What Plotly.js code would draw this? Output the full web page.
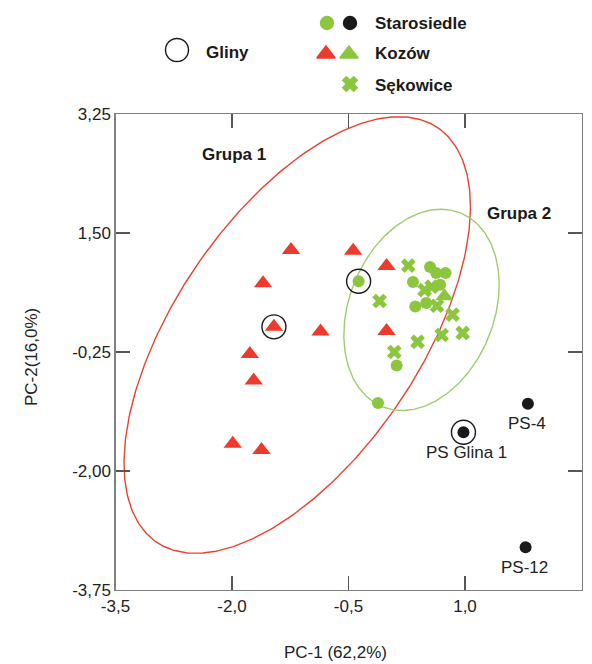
<!DOCTYPE html>
<html>
<head>
<meta charset="utf-8">
<script src="https://cdn.plot.ly/plotly-3.0.1.min.js"></script>
<style>html,body{margin:0;padding:0;background:#fff;}#chart{width:592px;height:664px;}</style>
</head>
<body>
<div id="chart"></div>
<script>
// ---- Data ----
const starGreenX = [-0.37, 0.55, 0.63, 0.75, 0.33, 0.68, 0.36, 0.50, 0.12, -0.12];
const starGreenY = [0.79, 1.00, 0.91, 0.91, 0.78, 0.74, 0.42, 0.47, -0.45, -1.00];

const starBlackX = [1.81, 0.98, 1.78];
const starBlackY = [-1.01, -1.43, -3.12];
const starBlackLabels = ['PS-4', 'PS Glina 1', 'PS-12'];

const kozRedX = [-1.24, -0.44, -0.01, -1.60, -1.46, -0.86, -0.01, -1.77, -1.72, -1.99, -1.62];
const kozRedY = [1.25, 1.24, 1.015, 0.76, 0.12, 0.05, 0.06, -0.28, -0.67, -1.60, -1.69];

const kozGreenX = [0.735];
const kozGreenY = [0.57];

const sekX = [0.27, -0.10, 0.48, 0.57, 0.64, 0.84, 0.70, 0.97, 0.39, 0.09];
const sekY = [1.02, 0.50, 0.66, 0.71, 0.43, 0.30, 0.00, 0.03, -0.10, -0.25];

const glinyX = [-1.46, -0.37, 0.98];
const glinyY = [0.12, 0.79, -1.43];

// Ellipse parameters: Grupa 1, Grupa 2 (center, half x-extent, half y-extent, correlation)
const ellipseNames = ['Grupa 1', 'Grupa 2'];
const ellipseCx = [-1.16, 0.44];
const ellipseCy = [0.00, 0.37];
const ellipseSx = [2.23, 1.00];
const ellipseSy = [3.21, 1.48];
const ellipseRho = [0.587, 0.25];
const ellipseColors = ['#e8432f', '#9fcd6c'];

const xTicks = [-3.5, -2.0, -0.5, 1.0, 2.5];
const yTicks = [3.25, 1.50, -0.25, -2.00, -3.75];

// ---- Styles ----
const FONT = 'Liberation Sans, Arial, Helvetica, sans-serif';
const RED = '#ec3a2d';
const GREEN = '#8cc63f';
const BLACK = '#1a1a1a';
const W = 592, H = 664;
const PLOT = {l: 115.5, r: 581.5, t: 114, b: 590};

function ellipsePath(i) {
  const xs = [], ys = [];
  const n = 360;
  const r = ellipseRho[i];
  const q = Math.sqrt(1 - r * r);
  for (let k = 0; k <= n; k++) {
    const t = 2 * Math.PI * k / n;
    xs.push(ellipseCx[i] + ellipseSx[i] * Math.cos(t));
    ys.push(ellipseCy[i] + ellipseSy[i] * (r * Math.cos(t) + q * Math.sin(t)));
  }
  return {xs, ys};
}

const traces = [];
ellipseNames.forEach((nm, i) => {
  const p = ellipsePath(i);
  traces.push({
    x: p.xs, y: p.ys, mode: 'lines', type: 'scatter', name: nm,
    line: {color: ellipseColors[i], width: 1.4},
    hoverinfo: 'skip', showlegend: false
  });
});

traces.push({x: kozRedX, y: kozRedY, mode: 'markers', type: 'scatter', name: 'Kozów',
  marker: {symbol: 'triangle-up', size: 16, color: RED}, showlegend: false});
traces.push({x: sekX, y: sekY, mode: 'markers', type: 'scatter', name: 'Sękowice',
  marker: {symbol: 'x', size: 13, color: GREEN}, showlegend: false});
traces.push({x: starGreenX, y: starGreenY, mode: 'markers', type: 'scatter', name: 'Starosiedle',
  marker: {symbol: 'circle', size: 12, color: GREEN}, showlegend: false});
traces.push({x: kozGreenX, y: kozGreenY, mode: 'markers', type: 'scatter', name: 'Kozów',
  marker: {symbol: 'triangle-up', size: 16, color: GREEN}, showlegend: false});
traces.push({x: starBlackX, y: starBlackY, mode: 'markers', type: 'scatter', name: 'Starosiedle',
  marker: {symbol: 'circle', size: 12, color: BLACK}, showlegend: false});
traces.push({x: glinyX, y: glinyY, mode: 'markers', type: 'scatter', name: 'Gliny',
  marker: {symbol: 'circle-open', size: 24, color: BLACK, line: {width: 1.4, color: BLACK}}, showlegend: false});

// ---- Custom legend (full-page overlay axes in page-pixel units) ----
const legMarkers = [
  {x: 177, y: 50, symbol: 'circle-open', size: 23, color: BLACK},
  {x: 327, y: 23, symbol: 'circle', size: 13, color: GREEN},
  {x: 350, y: 23, symbol: 'circle', size: 13, color: BLACK},
  {x: 326, y: 54, symbol: 'triangle-up', size: 16, color: RED},
  {x: 349, y: 54, symbol: 'triangle-up', size: 16, color: GREEN},
  {x: 350, y: 84, symbol: 'x', size: 13, color: GREEN}
];
legMarkers.forEach(m => {
  traces.push({x: [m.x], y: [m.y], xaxis: 'x2', yaxis: 'y2', mode: 'markers', type: 'scatter',
    cliponaxis: false, hoverinfo: 'skip', showlegend: false,
    marker: {symbol: m.symbol, size: m.size, color: m.color, line: {width: 1.4, color: m.color}}});
});
const legTexts = [
  {x: 204, y: 52, text: 'Gliny'},
  {x: 373, y: 23, text: 'Starosiedle'},
  {x: 373, y: 53, text: 'Kozów'},
  {x: 373, y: 85, text: 'Sękowice'}
];

const annotations = [];
legTexts.forEach(t => annotations.push({
  xref: 'x2', yref: 'y2', x: t.x, y: t.y, text: '<b>' + t.text + '</b>', showarrow: false,
  xanchor: 'left', yanchor: 'middle', font: {family: FONT, size: 17, color: BLACK}
}));
// Group labels
annotations.push({xref: 'x', yref: 'y', x: -1.97, y: 2.65, text: '<b>Grupa 1</b>', showarrow: false,
  font: {family: FONT, size: 17, color: BLACK}});
annotations.push({xref: 'x', yref: 'y', x: 1.70, y: 1.79, text: '<b>Grupa 2</b>', showarrow: false,
  font: {family: FONT, size: 17, color: BLACK}});
// Point labels
starBlackLabels.forEach((lb, i) => annotations.push({
  xref: 'x', yref: 'y', x: starBlackX[i], y: starBlackY[i], text: lb, showarrow: false,
  yshift: -20, xshift: (i === 1 ? 3 : -1), font: {family: FONT, size: 17, color: '#222'}
}));
// Axis titles
annotations.push({xref: 'x2', yref: 'y2', x: 335, y: 652, text: 'PC-1 (62,2%)', showarrow: false,
  xanchor: 'center', yanchor: 'middle', font: {family: FONT, size: 17, color: '#222'}});
annotations.push({xref: 'x2', yref: 'y2', x: 31, y: 357, text: 'PC-2(16,0%)', showarrow: false,
  textangle: -90, xanchor: 'center', yanchor: 'middle', font: {family: FONT, size: 17, color: '#222'}});

const fmt = (v, d) => v.toFixed(d).replace('.', ',');

const axisCommon = {
  showgrid: false, zeroline: false, showline: true, linecolor: '#808080', linewidth: 1.2,
  mirror: 'ticks', ticks: 'inside', ticklen: 14, tickwidth: 1.2, tickcolor: '#555',
  tickfont: {family: FONT, size: 17, color: '#222'}, fixedrange: true, tickmode: 'array'
};

const layout = {
  width: W, height: H,
  margin: {l: 0, r: 0, t: 0, b: 0, pad: 0},
  paper_bgcolor: '#ffffff', plot_bgcolor: 'rgba(0,0,0,0)',
  showlegend: false,
  xaxis: Object.assign({}, axisCommon, {
    domain: [PLOT.l / W, PLOT.r / W], anchor: 'y',
    range: [-3.5, 2.5], tickvals: xTicks, ticktext: xTicks.map(v => fmt(v, 1))}),
  yaxis: Object.assign({}, axisCommon, {
    domain: [1 - PLOT.b / H, 1 - PLOT.t / H], anchor: 'x',
    range: [-3.75, 3.25], tickvals: yTicks, ticktext: yTicks.map(v => fmt(v, 2))}),
  xaxis2: {domain: [0, 1], anchor: 'y2', range: [0, W], visible: false, fixedrange: true},
  yaxis2: {domain: [0, 1], anchor: 'x2', range: [H, 0], visible: false, fixedrange: true},
  annotations: annotations
};

Plotly.newPlot('chart', traces, layout, {displayModeBar: false, staticPlot: true});
</script>
</body>
</html>
